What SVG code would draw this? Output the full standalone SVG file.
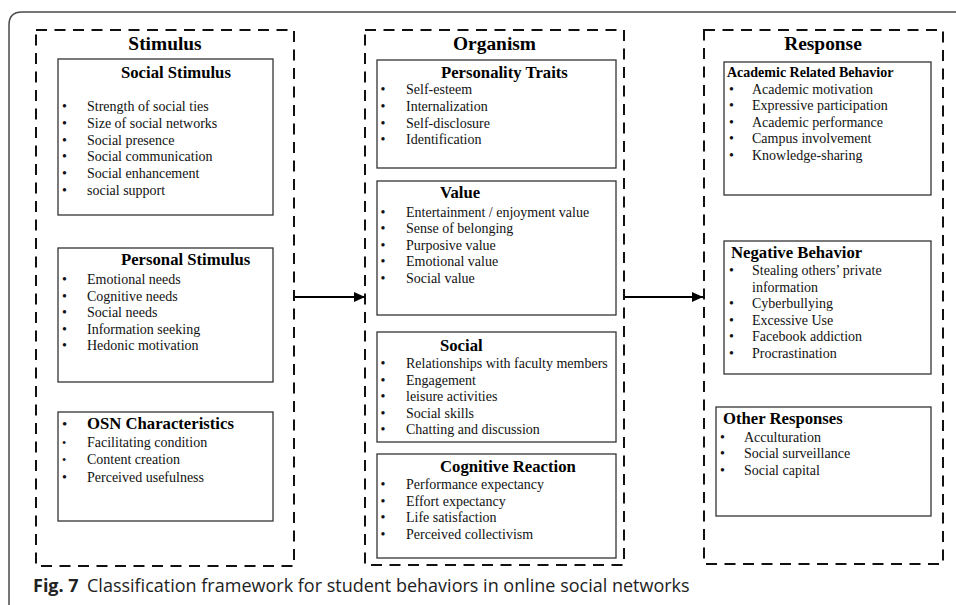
<svg xmlns="http://www.w3.org/2000/svg" width="956" height="605" viewBox="0 0 956 605">
<defs>
<style>
.frame{fill:none;stroke:#4a4a4a;stroke-width:1.5}
.dash{fill:none;stroke:#111;stroke-width:2;stroke-dasharray:11 7.5}
.box{fill:#fff;stroke:#333;stroke-width:1.3}
.h1{font-family:"Liberation Serif","Times New Roman",serif;font-weight:bold;font-size:19.4px;fill:#000}
.h2{font-family:"Liberation Serif","Times New Roman",serif;font-weight:bold;font-size:16.7px;fill:#000}
.h3{font-family:"Liberation Serif","Times New Roman",serif;font-weight:bold;font-size:14px;fill:#000}
.t{font-family:"Liberation Serif","Times New Roman",serif;font-size:14px;fill:#111}
.cap{font-family:"Open Sans","Noto Sans",sans-serif;font-size:18px;fill:#222}
.conn{stroke:#000;stroke-width:2;fill:none}
</style>
<marker id="arr" markerUnits="userSpaceOnUse" markerWidth="12" markerHeight="10" refX="11" refY="5" orient="auto">
<path d="M0,0 L11,5 L0,10 Z" fill="#000"/>
</marker>
</defs>
<rect width="956" height="605" fill="#fff"/>
<path class="frame" d="M9,612 V25 Q9,12 22,12 H960"/>

<g id="stimulus">
<rect class="dash" x="36" y="30" width="258" height="536"/>
<text class="h1" x="165" y="50" text-anchor="middle">Stimulus</text>
</g>
<g id="social-stimulus">
<rect class="box" x="58" y="59" width="215" height="156"/>
<text class="h2" x="121" y="78">Social Stimulus</text>
<text class="t" x="62" y="111">•</text><text class="t" x="87" y="111">Strength of social ties</text>
<text class="t" x="62" y="128">•</text><text class="t" x="87" y="128">Size of social networks</text>
<text class="t" x="62" y="144.5">•</text><text class="t" x="87" y="144.5">Social presence</text>
<text class="t" x="62" y="161">•</text><text class="t" x="87" y="161">Social communication</text>
<text class="t" x="62" y="178">•</text><text class="t" x="87" y="178">Social enhancement</text>
<text class="t" x="62" y="194.5">•</text><text class="t" x="87" y="194.5">social support</text>
</g>
<g id="personal-stimulus">
<rect class="box" x="58" y="248" width="215" height="134"/>
<text class="h2" x="121" y="265">Personal Stimulus</text>
<text class="t" x="62" y="284">•</text><text class="t" x="87" y="284">Emotional needs</text>
<text class="t" x="62" y="300.5">•</text><text class="t" x="87" y="300.5">Cognitive needs</text>
<text class="t" x="62" y="317">•</text><text class="t" x="87" y="317">Social needs</text>
<text class="t" x="62" y="333.5">•</text><text class="t" x="87" y="333.5">Information seeking</text>
<text class="t" x="62" y="350">•</text><text class="t" x="87" y="350">Hedonic motivation</text>
</g>
<g id="osn-characteristics">
<rect class="box" x="58" y="412" width="215" height="109"/>
<text class="t" x="62" y="429" style="font-size:15px">•</text><text class="h2" x="87" y="429">OSN Characteristics</text>
<text class="t" x="62" y="447" style="font-size:12px">•</text><text class="t" x="87" y="447">Facilitating condition</text>
<text class="t" x="62" y="464" style="font-size:12px">•</text><text class="t" x="87" y="464">Content creation</text>
<text class="t" x="62" y="482">•</text><text class="t" x="87" y="482">Perceived usefulness</text>
</g>

<g id="organism">
<rect class="dash" x="365" y="30" width="259" height="535"/>
<text class="h1" x="494.5" y="50" text-anchor="middle">Organism</text>
</g>
<g id="personality-traits">
<rect class="box" x="377" y="60" width="239" height="108"/>
<text class="h2" x="441" y="78">Personality Traits</text>
<text class="t" x="380.5" y="94">•</text><text class="t" x="406" y="94">Self-esteem</text>
<text class="t" x="380.5" y="111">•</text><text class="t" x="406" y="111">Internalization</text>
<text class="t" x="380.5" y="127.5">•</text><text class="t" x="406" y="127.5">Self-disclosure</text>
<text class="t" x="380.5" y="144">•</text><text class="t" x="406" y="144">Identification</text>
</g>
<g id="value">
<rect class="box" x="377" y="181" width="239" height="134"/>
<text class="h2" x="440" y="198">Value</text>
<text class="t" x="380.5" y="216.5">•</text><text class="t" x="406" y="216.5">Entertainment / enjoyment value</text>
<text class="t" x="380.5" y="233">•</text><text class="t" x="406" y="233">Sense of belonging</text>
<text class="t" x="380.5" y="249.5">•</text><text class="t" x="406" y="249.5">Purposive value</text>
<text class="t" x="380.5" y="266">•</text><text class="t" x="406" y="266">Emotional value</text>
<text class="t" x="380.5" y="282.5">•</text><text class="t" x="406" y="282.5">Social value</text>
</g>
<g id="social">
<rect class="box" x="377" y="332" width="239" height="110"/>
<text class="h2" x="440" y="351">Social</text>
<text class="t" x="380.5" y="368">•</text><text class="t" x="406" y="368">Relationships with faculty members</text>
<text class="t" x="380.5" y="384.5">•</text><text class="t" x="406" y="384.5">Engagement</text>
<text class="t" x="380.5" y="401">•</text><text class="t" x="406" y="401">leisure activities</text>
<text class="t" x="380.5" y="417.5">•</text><text class="t" x="406" y="417.5">Social skills</text>
<text class="t" x="380.5" y="434">•</text><text class="t" x="406" y="434">Chatting and discussion</text>
</g>
<g id="cognitive-reaction">
<rect class="box" x="377" y="454" width="239" height="104"/>
<text class="h2" x="440" y="472">Cognitive Reaction</text>
<text class="t" x="380.5" y="489">•</text><text class="t" x="406" y="489">Performance expectancy</text>
<text class="t" x="380.5" y="505.5">•</text><text class="t" x="406" y="505.5">Effort expectancy</text>
<text class="t" x="380.5" y="522">•</text><text class="t" x="406" y="522">Life satisfaction</text>
<text class="t" x="380.5" y="538.5">•</text><text class="t" x="406" y="538.5">Perceived collectivism</text>
</g>

<g id="response">
<rect class="dash" x="704" y="30" width="239" height="534"/>
<text class="h1" x="823" y="50" text-anchor="middle">Response</text>
</g>
<g id="academic-related-behavior">
<rect class="box" x="724" y="62" width="207" height="133"/>
<text class="h3" x="727" y="77">Academic Related Behavior</text>
<text class="t" x="729" y="93.5">•</text><text class="t" x="752" y="93.5">Academic motivation</text>
<text class="t" x="729" y="110">•</text><text class="t" x="752" y="110">Expressive participation</text>
<text class="t" x="729" y="126.5">•</text><text class="t" x="752" y="126.5">Academic performance</text>
<text class="t" x="729" y="143">•</text><text class="t" x="752" y="143">Campus involvement</text>
<text class="t" x="729" y="159.5">•</text><text class="t" x="752" y="159.5">Knowledge-sharing</text>
</g>
<g id="negative-behavior">
<rect class="box" x="724" y="241" width="207" height="133"/>
<text class="h2" x="731" y="258">Negative Behavior</text>
<text class="t" x="729" y="275">•</text><text class="t" x="752" y="275">Stealing others’ private</text>
<text class="t" x="752" y="291.5">information</text>
<text class="t" x="729" y="308">•</text><text class="t" x="752" y="308">Cyberbullying</text>
<text class="t" x="729" y="324.5">•</text><text class="t" x="752" y="324.5">Excessive Use</text>
<text class="t" x="729" y="341">•</text><text class="t" x="752" y="341">Facebook addiction</text>
<text class="t" x="729" y="357.5">•</text><text class="t" x="752" y="357.5">Procrastination</text>
</g>
<g id="other-responses">
<rect class="box" x="716" y="407" width="215" height="109"/>
<text class="h2" x="723" y="424">Other Responses</text>
<text class="t" x="720" y="441.5">•</text><text class="t" x="744" y="441.5">Acculturation</text>
<text class="t" x="720" y="458">•</text><text class="t" x="744" y="458">Social surveillance</text>
<text class="t" x="720" y="474.5">•</text><text class="t" x="744" y="474.5">Social capital</text>
</g>

<g id="connectors">
<line class="conn" x1="295" y1="297" x2="365" y2="297" marker-end="url(#arr)"/>
<line class="conn" x1="625" y1="297" x2="703" y2="297" marker-end="url(#arr)"/>
</g>

<text class="cap" x="33" y="592"><tspan font-weight="bold">Fig. 7</tspan><tspan x="87">Classification framework for student behaviors in online social networks</tspan></text>
</svg>
